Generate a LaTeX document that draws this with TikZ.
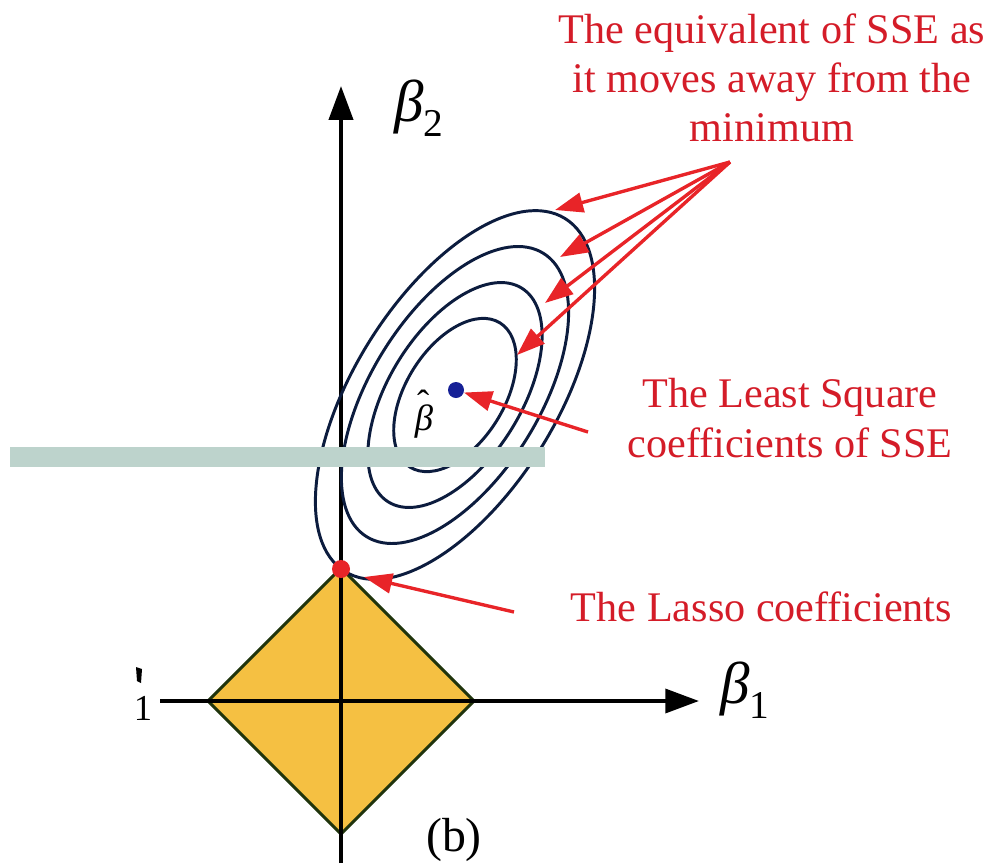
\documentclass[tikz,border=0pt]{standalone}
\usepackage{fontspec}
\setmainfont{Liberation Serif}
\usetikzlibrary{arrows.meta}
\definecolor{lassored}{RGB}{232,36,40}
\definecolor{notered}{RGB}{212,28,40}
\definecolor{contour}{RGB}{12,28,62}
\definecolor{olsblue}{RGB}{22,32,150}
\definecolor{lassofill}{RGB}{245,192,66}
\definecolor{lassoedge}{RGB}{32,52,12}
\definecolor{maskbar}{RGB}{189,211,204}
\tikzset{
  axisline/.style={line width=2.8pt, black, -{Triangle[length=24pt,width=17pt]}},
  redarrow/.style={line width=2.4pt, lassored, -{Triangle[length=20pt,width=14pt]}},
  sselevel/.style={line width=2.1pt, contour},
  notetext/.style={text=notered, align=center, font=\fontsize{30}{35}\selectfont},
}
\begin{document}
\begin{tikzpicture}[x=0.025cm, y=-0.025cm]
    \useasboundingbox (0,0) rectangle (988,863);

    % 1. Lasso constraint region
    \filldraw[fill=lassofill, draw=lassoedge, line width=2.2pt] (208,701) -- (341,568) -- (474,701) -- (341,834) -- cycle;

    % 2. Axes and their labels
    \draw[axisline] (341,863) -- (341,86);
    \draw[axisline] (160,701) -- (699,701);
    \node[font=\fontsize{42}{42}\selectfont] (lblbtwo) at (419,108) {\textit{β}\raisebox{-11pt}{\fontsize{28}{28}\selectfont 2}};
    \node[font=\fontsize{42}{42}\selectfont] (lblbone) at (745,690) {\textit{β}\raisebox{-11pt}{\fontsize{28}{28}\selectfont 1}};
    \node[font=\fontsize{26}{26}\selectfont] (lblcut) at (143,708) {1};
    \fill (136,667) -- (142,669) -- (141,683) -- (137,681) -- cycle;

    % 3. SSE contours round the least squares point
    \foreach \a/\b in {85/49,126/66,167/84,208/101}
        \draw[sselevel, rotate around={58:(455,395)}] (455,395) ellipse [x radius=\a, y radius=\b];

    % 4. The two points
    \node[circle, fill=olsblue, inner sep=0pt, minimum size=0.4cm] (olsdot) at (456,390) {};
    \node[circle, fill=lassored, inner sep=0pt, minimum size=0.45cm] (lassodot) at (341,569) {};
    \node[font=\fontsize{26}{26}\selectfont] (lblbhat) at (424,418)
        {\ooalign{\textit{β}\cr\hidewidth\raisebox{0.42em}{ˆ}\kern0.05em\hidewidth\cr}};

    % 5. Notes and red arrows
    \node[notetext] (lblsse) at (772,78) {The equivalent of SSE as\\it moves away from the\\minimum};
    \node[notetext] (lblls) at (790,418) {The Least Square\\coefficients of SSE};
    \node[notetext, anchor=west] (lbllasso) at (566,607) {The Lasso coefficients};
    \node[font=\fontsize{34}{40}\selectfont] (lblb) at (454,840) {(b)};

    \coordinate (ssetail) at (730,162);
    \coordinate (lvfour) at (555,210);
    \coordinate (lvthree) at (560,257);
    \coordinate (lvtwo) at (545,303);
    \coordinate (lvone) at (517,355);
    \foreach \t in {lvfour,lvthree,lvtwo,lvone}
        \draw[redarrow] (ssetail) -- (\t);
    \coordinate (lstail) at (588,432);
    \draw[redarrow] (lstail) -- (olsdot);
    \coordinate (lassotail) at (514,612);
    \coordinate (lassotip) at (364,577);
    \draw[redarrow] (lassotail) -- (lassotip);

    % 6. Grey-green bar across the picture
    \fill[maskbar] (10,447) rectangle (545,467);

\end{tikzpicture}
\end{document}
